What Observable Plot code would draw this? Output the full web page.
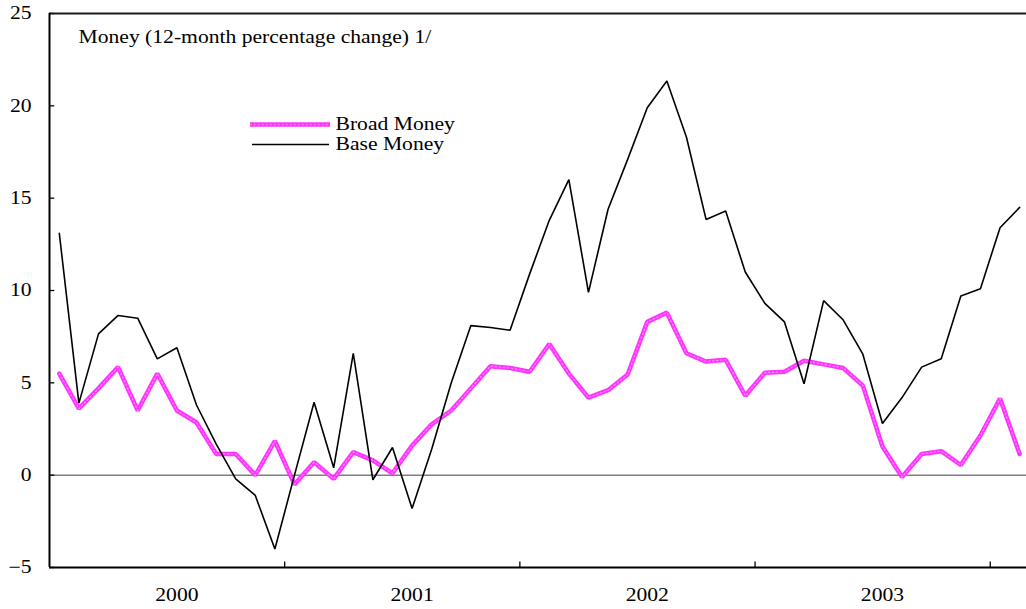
<!DOCTYPE html>
<html><head><meta charset="utf-8">
<script src="https://cdn.jsdelivr.net/npm/d3@7"></script>
<script src="https://cdn.jsdelivr.net/npm/@observablehq/plot@0.6"></script>
<style>
html,body{margin:0;padding:0;background:#fff;}
#chart{width:1026px;height:609px;overflow:hidden;position:relative;}
</style></head><body><div id="chart"></div>
<script>
const months = [
  "2000-01","2000-02","2000-03","2000-04","2000-05","2000-06","2000-07","2000-08","2000-09","2000-10","2000-11","2000-12",
  "2001-01","2001-02","2001-03","2001-04","2001-05","2001-06","2001-07","2001-08","2001-09","2001-10","2001-11","2001-12",
  "2002-01","2002-02","2002-03","2002-04","2002-05","2002-06","2002-07","2002-08","2002-09","2002-10","2002-11","2002-12",
  "2003-01","2003-02","2003-03","2003-04","2003-05","2003-06","2003-07","2003-08","2003-09","2003-10","2003-11","2003-12",
  "2004-01","2004-02"
];
const broadMoney = [
  5.5, 3.6, 4.7, 5.85, 3.5, 5.5, 3.5, 2.85, 1.15, 1.15, 0.0, 1.85,
  -0.5, 0.7, -0.2, 1.25, 0.8, 0.1, 1.6, 2.75, 3.5, 4.7, 5.9, 5.8,
  5.6, 7.1, 5.5, 4.2, 4.6, 5.45, 8.3, 8.8, 6.6, 6.15, 6.25, 4.3,
  5.55, 5.6, 6.2, 6.0, 5.8, 4.85, 1.55, -0.1, 1.15, 1.3, 0.55, 2.15,
  4.15, 1.15
];
const baseMoney = [
  13.1, 3.9, 7.65, 8.65, 8.5, 6.3, 6.9, 3.8, 1.7, -0.2, -1.1, -4.0,
  0.0, 3.95, 0.4, 6.6, -0.25, 1.5, -1.8, 1.4, 5.0, 8.1, 8.0, 7.85,
  10.9, 13.8, 16.0, 9.9, 14.4, 17.1, 19.9, 21.35, 18.3, 13.85, 14.3, 11.0,
  9.3, 8.3, 4.95, 9.45, 8.4, 6.55, 2.8, 4.2, 5.85, 6.3, 9.7, 10.1,
  13.4, 14.5
];
const yearLabels = ["2000", "2001", "2002", "2003"];
const yTicks = [-5, 0, 5, 10, 15, 20, 25];
const titleText = "Money (12-month percentage change) 1/";
const seriesNames = ["Broad Money", "Base Money"];
const seriesColors = ["#ff33ff", "#000000"];

const rows = months.map((m, i) => ({pos: i + 0.5, month: m, broad: broadMoney[i], base: baseMoney[i]}));
const yearStarts = months.map((m, i) => ({m, i})).filter(d => d.m.endsWith("-01") && d.i > 0).map(d => d.i);
const yearMid = yearLabels.map(y => ({label: y, pos: months.indexOf(y + "-07") + 0.5}));

const font = "'Liberation Serif', 'Times New Roman', serif";

const chart = Plot.plot({
  width: 1026, height: 609,
  marginLeft: 49, marginRight: 0, marginTop: 13, marginBottom: 42,
  style: {fontFamily: font, fontSize: "18px", background: "#fff", color: "#000", overflow: "visible"},
  x: {domain: [0, 49.85], axis: null},
  y: {domain: [-5, 25], axis: null, label: null},
  marks: [
    Plot.ruleY([0], {stroke: "#7f7f7f", strokeWidth: 1.5}),
    Plot.ruleY(yTicks, {x1: 0, x2: 0.27, stroke: "#000", strokeWidth: 1.3}),
    Plot.ruleX(yearStarts, {y1: -5, y2: -4.7, stroke: "#000", strokeWidth: 1.3}),
    Plot.ruleY([-5], {stroke: "#000", strokeWidth: 2}),
    Plot.ruleY([25], {stroke: "#1a1a1a", strokeWidth: 2}),
    Plot.ruleX([0], {stroke: "#000", strokeWidth: 2}),
    Plot.axisY(yTicks, {tickSize: 0, tickPadding: 18, fontSize: 18, label: null}),
    Plot.text(yearMid, {x: "pos", y: () => -5, text: "label", dy: 28, fontSize: 18, textAnchor: "middle"}),
    Plot.line(rows, {x: "pos", y: "broad", stroke: seriesColors[0], strokeWidth: 4.5, strokeLinejoin: "miter"}),
    Plot.line(rows, {x: "pos", y: "broad", stroke: "#ffaaff", strokeWidth: 1.2, strokeDasharray: "1.5,2.5", strokeOpacity: 0.7}),
    Plot.line(rows, {x: "pos", y: "base", stroke: seriesColors[1], strokeWidth: 1.6, strokeLinejoin: "miter"}),
    Plot.text([titleText], {frameAnchor: "top-left", dx: 29, dy: 17, fontSize: 18, textAnchor: "start", lineAnchor: "top"}),
    Plot.text([seriesNames[0]], {frameAnchor: "top-left", dx: 286, dy: 111, fontSize: 18, textAnchor: "start", lineAnchor: "middle"}),
    Plot.text([seriesNames[1]], {frameAnchor: "top-left", dx: 286, dy: 131, fontSize: 18, textAnchor: "start", lineAnchor: "middle"})
  ]
});

document.getElementById("chart").appendChild(chart);

// legend swatches
const svg = d3.select(chart);
const lg = svg.append("g");
lg.append("line").attr("x1", 250).attr("x2", 330).attr("y1", 124.5).attr("y2", 124.5)
  .attr("stroke", seriesColors[0]).attr("stroke-width", 4.5);
lg.append("line").attr("x1", 250).attr("x2", 330).attr("y1", 124.5).attr("y2", 124.5)
  .attr("stroke", "#ffaaff").attr("stroke-width", 1.2).attr("stroke-dasharray", "1.5,2.5").attr("stroke-opacity", 0.7);
lg.append("line").attr("x1", 252).attr("x2", 329).attr("y1", 144.5).attr("y2", 144.5)
  .attr("stroke", seriesColors[1]).attr("stroke-width", 1.6);

// horizontally widen glyphs to match the reference's stretched type
chart.querySelectorAll("text").forEach(t => {
  const len = t.getComputedTextLength();
  if (len > 0) {
    t.setAttribute("textLength", (len * 1.2).toFixed(1));
    t.setAttribute("lengthAdjust", "spacingAndGlyphs");
  }
});
</script>
</body></html>
